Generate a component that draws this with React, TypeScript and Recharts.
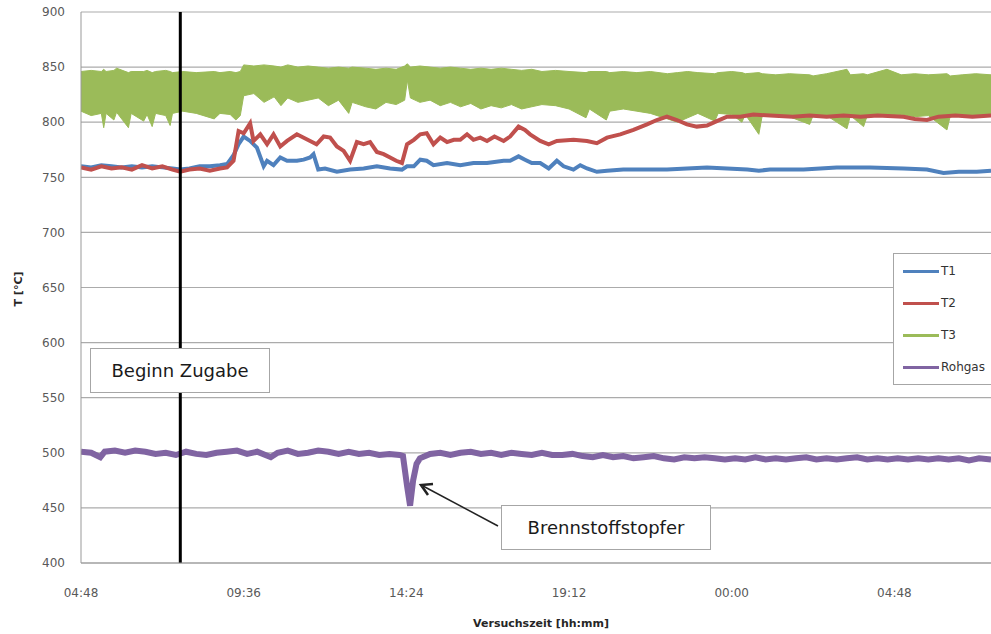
import { ComposedChart, Line, Area, XAxis, YAxis, CartesianGrid, ReferenceLine } from 'recharts';

// hours after 04:48 (start of the test)
const t1Hours = [0, 0.3, 0.6, 0.9, 1.2, 1.5, 1.8, 2.1, 2.4, 2.7, 2.93, 3.2, 3.5, 3.8, 4.1, 4.31, 4.5, 4.65, 4.8, 4.99, 5.19, 5.39, 5.49, 5.68, 5.88, 6.08, 6.37, 6.57, 6.76, 6.86, 7.0, 7.2, 7.55, 7.94, 8.34, 8.73, 9.12, 9.47, 9.62, 9.82, 10.01, 10.2, 10.4, 10.8, 11.19, 11.58, 11.98, 12.47, 12.66, 12.91, 13.1, 13.3, 13.55, 13.8, 14.04, 14.24, 14.53, 14.73, 14.93, 15.22, 15.52, 16.0, 16.7, 17.29, 17.88, 18.47, 19.06, 19.66, 20.0, 20.33, 21.32, 22.3, 23.28, 24.27, 24.96, 25.45, 25.9, 26.43, 26.85];
const t1Values = [760, 759, 761, 760, 759, 760, 759, 760, 759, 758, 757, 758, 760, 760, 761, 762, 770, 780, 787, 783, 777, 760, 765, 761, 768, 765, 765, 766, 768, 771, 757, 758, 755, 757, 758, 760, 758, 757, 760, 760, 766, 765, 761, 763, 761, 763, 763, 765, 765, 769, 766, 763, 763, 758, 765, 760, 757, 761, 758, 755, 756, 757, 757, 757, 758, 759, 758, 757, 756, 757, 757, 759, 759, 758, 757, 754, 755, 755, 756];

const t2Hours = [0, 0.3, 0.6, 0.9, 1.2, 1.5, 1.8, 2.1, 2.4, 2.7, 2.93, 3.2, 3.5, 3.8, 4.1, 4.31, 4.5, 4.65, 4.8, 4.99, 5.09, 5.29, 5.49, 5.68, 5.88, 6.08, 6.37, 6.76, 6.95, 7.16, 7.35, 7.55, 7.75, 7.94, 8.14, 8.34, 8.53, 8.73, 8.93, 9.12, 9.3, 9.47, 9.62, 9.82, 10.01, 10.2, 10.4, 10.6, 10.8, 11.0, 11.19, 11.39, 11.58, 11.78, 11.98, 12.2, 12.47, 12.66, 12.91, 13.1, 13.25, 13.55, 13.8, 14.04, 14.53, 14.93, 15.22, 15.52, 15.91, 16.3, 16.7, 16.99, 17.29, 17.58, 17.88, 18.17, 18.47, 18.76, 19.06, 19.45, 19.84, 20.33, 21.0, 21.5, 22.0, 22.5, 23.0, 23.5, 24.27, 24.6, 24.96, 25.3, 25.8, 26.3, 26.85];
const t2Values = [759, 757, 760, 758, 759, 757, 761, 758, 760, 757, 755, 757, 758, 756, 758, 759, 765, 792, 790, 799, 783, 789, 780, 789, 778, 783, 789, 783, 780, 787, 786, 778, 774, 765, 782, 780, 782, 773, 771, 768, 765, 763, 780, 784, 789, 790, 780, 786, 782, 784, 784, 789, 784, 786, 783, 787, 783, 787, 796, 793, 789, 783, 780, 783, 784, 783, 781, 786, 789, 793, 798, 802, 805, 802, 798, 796, 797, 801, 805, 805, 807, 806, 805, 806, 805, 806, 805, 806, 805, 803, 802, 805, 806, 805, 806];

const t3Hours = [0, 0.3, 0.6, 0.67, 0.74, 0.97, 1.05, 1.4, 1.48, 1.85, 1.95, 2.1, 2.2, 2.5, 2.63, 2.7, 3.0, 3.4, 3.93, 4.1, 4.4, 4.57, 4.7, 4.8, 5.1, 5.4, 5.7, 5.9, 6.1, 6.4, 6.7, 7.0, 7.3, 7.6, 7.9, 8.0, 8.4, 8.7, 9.0, 9.3, 9.55, 9.63, 9.72, 10.0, 10.3, 10.6, 10.9, 11.2, 11.5, 11.8, 12.1, 12.4, 12.7, 13.0, 13.3, 13.6, 14.0, 14.4, 14.9, 15.0, 15.5, 15.6, 16.0, 16.4, 16.8, 17.3, 17.6, 17.9, 18.2, 18.7, 18.8, 19.2, 19.5, 19.6, 20.0, 20.1, 20.5, 20.9, 21.5, 21.6, 22.0, 22.6, 22.7, 23.09, 23.2, 23.78, 24.2, 24.6, 25.0, 25.55, 25.65, 26.0, 26.4, 26.85];
const t3Low = [810, 806, 808, 795, 808, 802, 809, 795, 808, 801, 807, 796, 808, 806, 797, 808, 810, 808, 803, 808, 807, 802, 806, 824, 826, 818, 823, 815, 822, 818, 820, 822, 815, 820, 808, 818, 814, 812, 818, 816, 820, 838, 822, 818, 820, 815, 818, 814, 817, 812, 815, 813, 816, 812, 814, 816, 815, 812, 804, 812, 802, 810, 812, 810, 808, 803, 800, 804, 808, 801, 808, 807, 800, 807, 789, 806, 807, 805, 798, 806, 806, 794, 806, 796, 806, 806, 807, 805, 806, 793, 806, 807, 805, 806];
const t3High = [846, 847, 846, 848, 846, 847, 849, 845, 846, 846, 847, 845, 846, 847, 846, 845, 846, 845, 846, 845, 846, 845, 846, 852, 851, 852, 851, 850, 852, 850, 851, 850, 849, 850, 849, 850, 849, 848, 849, 848, 851, 853, 850, 851, 850, 849, 850, 849, 848, 849, 848, 849, 848, 847, 848, 846, 847, 846, 845, 846, 846, 845, 846, 845, 846, 844, 845, 846, 845, 844, 845, 846, 845, 844, 845, 844, 843, 844, 843, 842, 844, 848, 843, 844, 843, 848, 843, 844, 843, 844, 842, 843, 844, 843];

const rohgasHours = [0, 0.3, 0.57, 0.7, 1.0, 1.3, 1.6, 1.9, 2.2, 2.5, 2.8, 3.1, 3.4, 3.7, 4.0, 4.3, 4.6, 4.9, 5.2, 5.6, 5.8, 6.1, 6.4, 6.7, 7.0, 7.3, 7.6, 7.9, 8.2, 8.5, 8.8, 9.1, 9.4, 9.5, 9.62, 9.71, 9.8, 9.9, 10.0, 10.3, 10.6, 10.9, 11.2, 11.5, 11.8, 12.1, 12.4, 12.7, 13.0, 13.3, 13.6, 13.9, 14.2, 14.5, 14.8, 15.1, 15.4, 15.7, 16.0, 16.3, 16.6, 16.9, 17.2, 17.5, 17.8, 18.1, 18.4, 18.7, 19.0, 19.3, 19.6, 19.9, 20.2, 20.5, 20.8, 21.1, 21.4, 21.7, 22.0, 22.3, 22.6, 22.9, 23.2, 23.5, 23.8, 24.1, 24.4, 24.7, 25.0, 25.3, 25.6, 25.9, 26.2, 26.5, 26.85];
const rohgasValues = [501, 500, 496, 501, 502, 500, 502, 501, 499, 500, 498, 501, 499, 498, 500, 501, 502, 499, 501, 496, 500, 502, 499, 500, 502, 501, 499, 501, 499, 500, 498, 499, 498, 497, 470, 452, 475, 490, 495, 499, 500, 498, 500, 501, 499, 500, 498, 500, 499, 498, 500, 498, 498, 499, 497, 496, 498, 496, 497, 495, 496, 497, 495, 494, 496, 495, 496, 495, 494, 495, 494, 496, 494, 495, 494, 495, 496, 494, 495, 494, 495, 496, 494, 495, 494, 495, 494, 495, 494, 495, 494, 495, 493, 495, 494];

const timeTicks = [0, 4.8, 9.6, 14.4, 19.2, 24];
const tempTicks = [400, 450, 500, 550, 600, 650, 700, 750, 800, 850, 900];
const zugabeHour = 2.93;

const seriesColors = { T1: '#4F81BD', T2: '#C0504D', T3: '#9BBB59', Rohgas: '#8064A2' };

const t1Data = t1Hours.map((h, i) => ({ h, v: t1Values[i] }));
const t2Data = t2Hours.map((h, i) => ({ h, v: t2Values[i] }));
const t3Data = t3Hours.map((h, i) => ({ h, range: [t3Low[i], t3High[i]] }));
const rohgasData = rohgasHours.map((h, i) => ({ h, v: rohgasValues[i] }));

const fmtTime = (h: number) => {
  const m = Math.round((4.8 + h) * 60) % 1440;
  return `${String(Math.floor(m / 60)).padStart(2, '0')}:${String(m % 60).padStart(2, '0')}`;
};

const font = '"DejaVu Sans", sans-serif';

const boxStyle: React.CSSProperties = {
  position: 'absolute',
  background: '#fff',
  border: '1px solid #a6a6a6',
  display: 'flex',
  alignItems: 'center',
  justifyContent: 'center',
  fontFamily: font,
  fontSize: 18,
  color: '#1a1a1a',
  boxSizing: 'border-box',
};

export default function App() {
  return (
    <div style={{ position: 'absolute', left: 0, top: 0, width: 991, height: 634, overflow: 'hidden', background: '#fff', fontFamily: font }}>
      <ComposedChart width={991} height={634} margin={{ top: 12, right: 0, bottom: 41, left: 0 }}>
        <CartesianGrid horizontal vertical={false} stroke="#ababab" strokeWidth={1.2} />
        <XAxis
          type="number"
          dataKey="h"
          domain={[0, 26.85]}
          ticks={timeTicks}
          tickFormatter={fmtTime}
          allowDataOverflow
          height={30}
          axisLine={{ stroke: '#999' }}
          tickLine={false}
          tickSize={0}
          tickMargin={25}
          tick={{ fontSize: 12, fill: '#595959', fontFamily: font }}
        />
        <YAxis
          type="number"
          domain={[400, 900]}
          ticks={tempTicks}
          width={81}
          axisLine={{ stroke: '#999' }}
          tickLine={false}
          tickSize={0}
          tickMargin={16}
          tick={{ fontSize: 12, fill: '#595959', fontFamily: font }}
        />
        <Line data={t1Data} dataKey="v" type="linear" stroke={seriesColors.T1} strokeWidth={4} dot={false} isAnimationActive={false} />
        <Line data={t2Data} dataKey="v" type="linear" stroke={seriesColors.T2} strokeWidth={4} dot={false} isAnimationActive={false} />
        <Area data={t3Data} dataKey="range" type="linear" stroke={seriesColors.T3} strokeWidth={1} fill={seriesColors.T3} fillOpacity={1} dot={false} isAnimationActive={false} />
        <Line data={rohgasData} dataKey="v" type="linear" stroke={seriesColors.Rohgas} strokeWidth={6} dot={false} isAnimationActive={false} />
        <ReferenceLine x={zugabeHour} stroke="#000" strokeWidth={3} />
      </ComposedChart>

      {/* axis titles */}
      <div style={{ position: 'absolute', left: 18, top: 289, transform: 'translate(-50%, -50%) rotate(-90deg)', fontSize: 11, fontWeight: 'bold', color: '#262626', whiteSpace: 'nowrap' }}>
        T [°C]
      </div>
      <div style={{ position: 'absolute', left: 541, top: 623, transform: 'translate(-50%, -50%)', fontSize: 11, fontWeight: 'bold', color: '#262626', whiteSpace: 'nowrap' }}>
        Versuchszeit [hh:mm]
      </div>

      {/* annotations */}
      <div style={{ ...boxStyle, left: 90, top: 348, width: 180, height: 45 }}>Beginn Zugabe</div>
      <div style={{ ...boxStyle, left: 501, top: 505, width: 210, height: 45 }}>Brennstoffstopfer</div>
      <svg width={991} height={634} style={{ position: 'absolute', left: 0, top: 0, pointerEvents: 'none' }}>
        <line x1={498} y1={526} x2={423} y2={486} stroke="#222" strokeWidth={1.5} />
        <polyline points="433,484 421,485 428,495" fill="none" stroke="#222" strokeWidth={2.5} />
      </svg>

      {/* legend */}
      <div style={{ position: 'absolute', left: 893, top: 253, width: 110, height: 132, background: '#fff', border: '1px solid #a6a6a6', boxSizing: 'border-box' }}>
        {(['T1', 'T2', 'T3', 'Rohgas'] as const).map((name, i) => (
          <div key={name} style={{ position: 'absolute', left: 9, top: 10 + i * 32, display: 'flex', alignItems: 'center', fontSize: 12, color: '#333' }}>
            <span style={{ display: 'inline-block', width: 36, height: 3, background: seriesColors[name], marginRight: 2 }} />
            {name}
          </div>
        ))}
      </div>
    </div>
  );
}
